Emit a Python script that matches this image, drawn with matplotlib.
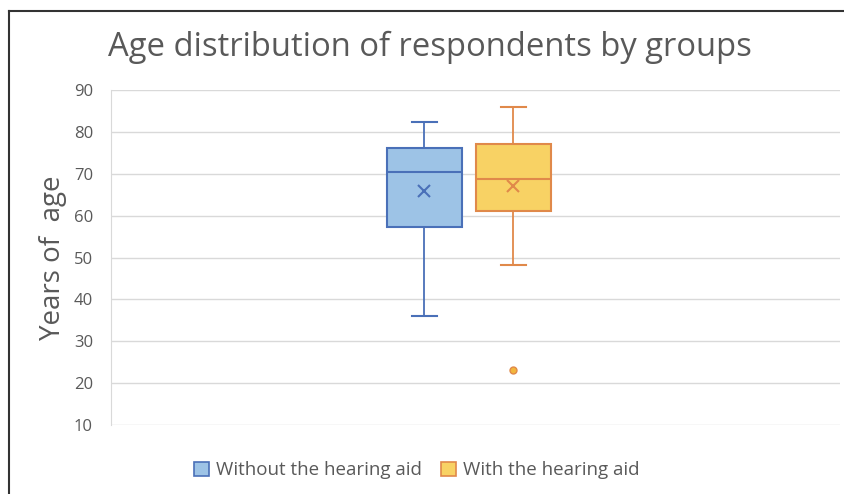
import matplotlib.pyplot as plt
from matplotlib.lines import Line2D
from matplotlib.patches import Patch

plt.rcParams['font.family'] = ['Open Sans', 'DejaVu Sans']

groups = ["Without the hearing aid", "With the hearing aid"]
whisker_low = [36, 48.2]
q1 = [57.3, 61]
median = [70.4, 68.7]
q3 = [76.1, 77.2]
whisker_high = [82.3, 86]
mean = [65.8, 67]
outliers = [[], [23.1]]

fills = ["#9DC3E6", "#F8D264"]
edges = ["#4A70B8", "#E0894A"]
positions = [0.430, 0.552]

fig = plt.figure(figsize=(8.44, 4.94), dpi=100)
ax = fig.add_axes([0.1315, 0.1397, 0.8635, 0.678])

for i in range(len(groups)):
    st = [dict(med=median[i], q1=q1[i], q3=q3[i], whislo=whisker_low[i],
               whishi=whisker_high[i], mean=mean[i], fliers=outliers[i])]
    ax.bxp(st, positions=[positions[i]], widths=0.103, patch_artist=True,
           showmeans=True, manage_ticks=False,
           boxprops=dict(facecolor=fills[i], edgecolor=edges[i], linewidth=1.5),
           medianprops=dict(color=edges[i], linewidth=1.5),
           whiskerprops=dict(color=edges[i], linewidth=1.3),
           capprops=dict(color=edges[i], linewidth=1.5),
           capwidths=0.035,
           meanprops=dict(marker='x', markeredgecolor=edges[i], markersize=9,
                          markeredgewidth=1.5),
           flierprops=dict(marker='o', markerfacecolor="#F2B63C",
                           markeredgecolor="#E0894A", markersize=5))

ax.set_xlim(0, 1)
ax.set_ylim(10, 90)
ax.set_yticks(range(10, 91, 10))
ax.set_xticks([])
ax.yaxis.grid(True, color="#D9D9D9", linewidth=1)
ax.set_axisbelow(True)
for s in ["top", "right", "bottom"]:
    ax.spines[s].set_visible(False)
ax.spines["left"].set_color("#D9D9D9")
ax.tick_params(axis='y', length=0, labelsize=12, labelcolor="#595959", pad=13)

ax.set_ylabel("Years of  age", fontsize=20, color="#595959", labelpad=5)
fig.text(0.509, 0.905, "Age distribution of respondents by groups",
         ha='center', va='center', fontsize=23.6, color="#595959")

handles = [Patch(facecolor=fills[i], edgecolor=edges[i], linewidth=1.2) for i in range(2)]
fig.legend(handles, groups, loc='center', bbox_to_anchor=(0.494, 0.048), ncol=2,
           frameon=False, fontsize=13.5, handlelength=0.8, handleheight=0.8,
           handletextpad=0.4, columnspacing=1.0, labelcolor="#595959")

fig.add_artist(Line2D([9/844, 9/844], [0, 1 - 11/494], color="#333333", linewidth=1.5))
fig.add_artist(Line2D([9/844, 1], [1 - 11/494, 1 - 11/494], color="#333333", linewidth=1.5))

fig.savefig("out.png", dpi=100)
